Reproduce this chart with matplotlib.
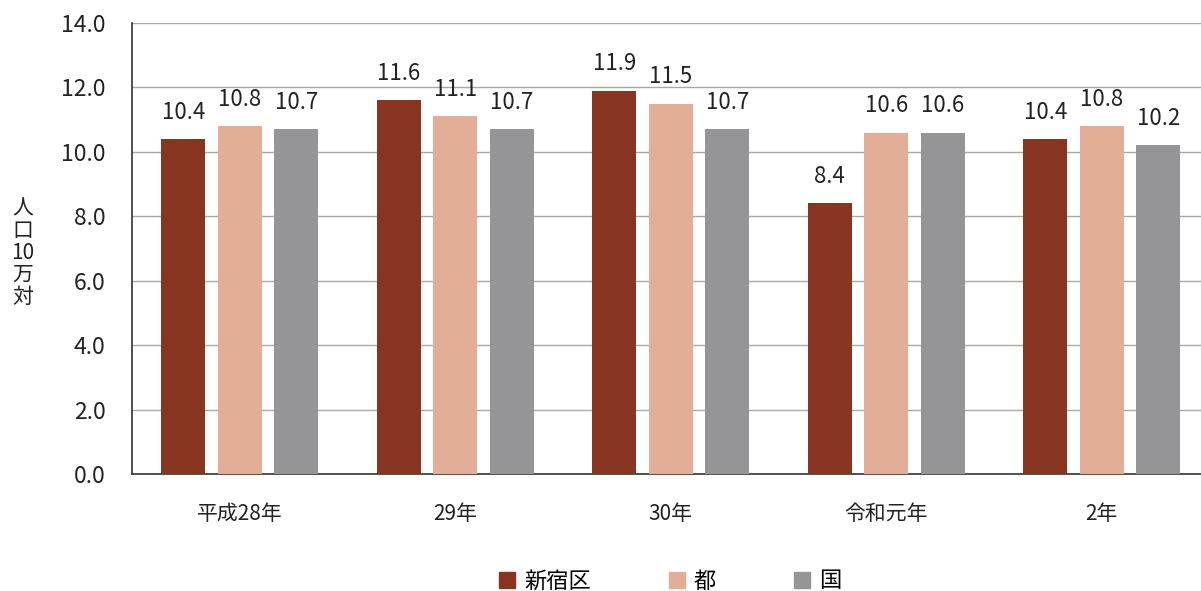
import matplotlib
matplotlib.use("Agg")
import matplotlib.pyplot as plt
from matplotlib.patches import Patch
import numpy as np

plt.rcParams["font.family"] = ["Noto Sans CJK JP", "DejaVu Sans"]

# ── データ ──────────────────────────────────────────
years = ["平成28年", "29年", "30年", "令和元年", "2年"]
shinjuku = [10.4, 11.6, 11.9, 8.4, 10.4]
tokyo = [10.8, 11.1, 11.5, 10.6, 10.8]
japan = [10.7, 10.7, 10.7, 10.6, 10.2]
series_names = ["新宿区", "都", "国"]
colors = ["#873421", "#E2AE98", "#959598"]
yticks = [0, 2, 4, 6, 8, 10, 12, 14]

fig = plt.figure(figsize=(12.01, 5.91), dpi=100)
ax = fig.add_axes([0.1099, 0.198, 0.8901, 0.763])

x = np.arange(len(years))
width = 0.204
step = 0.262
for i, (vals, c) in enumerate(zip([shinjuku, tokyo, japan], colors)):
    pos = x + (i - 1) * step
    bars = ax.bar(pos, vals, width=width, color=c, zorder=3)
    for b, v in zip(bars, vals):
        ax.annotate(f"{v:.1f}", (b.get_x() + b.get_width() / 2, v),
                    xytext=(0, 11), textcoords="offset points",
                    ha="center", va="bottom", fontsize=16, color="#222222")

ax.set_xlim(-0.5, 4.46)
ax.set_ylim(0, 14)
ax.set_yticks(yticks)
ax.set_yticklabels([f"{t:.1f}" for t in yticks], fontsize=16.5, color="#222222")
ax.set_xticks(x)
ax.set_xticklabels(years, fontsize=15, color="#222222")
ax.tick_params(axis="x", length=0, pad=21)
ax.tick_params(axis="y", length=0, pad=19)
ax.yaxis.grid(True, color="#a8a8a8", lw=1, zorder=0)
for s in ["top", "right"]:
    ax.spines[s].set_visible(False)
ax.spines["left"].set_color("#333333")
ax.spines["bottom"].set_color("#333333")
ax.spines["left"].set_linewidth(1.2)
ax.spines["bottom"].set_linewidth(1.2)

fig.text(0.019, 0.572, "人\n口\n10\n万\n対", ha="center", va="center",
         fontsize=15, linespacing=1.0, color="#222222")

handles = [Patch(color=c) for c in colors]
fig.legend(handles, series_names, loc="center", bbox_to_anchor=(0.558, 0.017),
           ncol=3, frameon=False, fontsize=16, handlelength=0.72, handleheight=0.72,
           handletextpad=0.4, columnspacing=3.5)

fig.savefig("out.png", dpi=100)
